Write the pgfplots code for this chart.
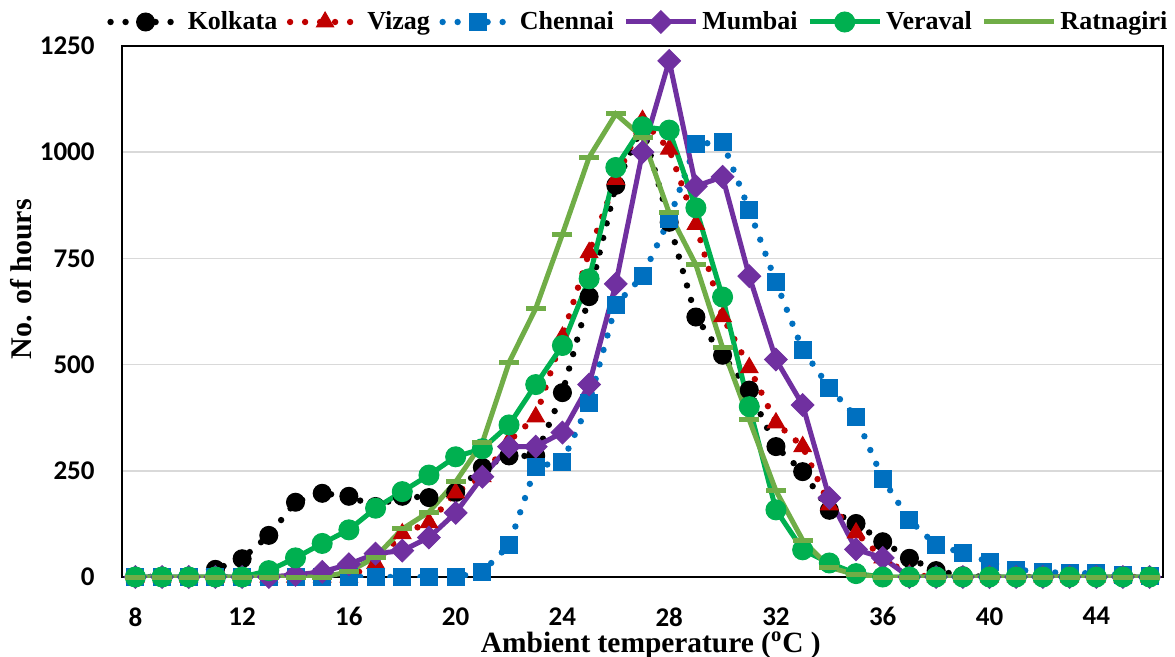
\documentclass[border=0pt]{standalone}
\usepackage{fontspec}
\setmainfont{Liberation Serif}
\newfontfamily\calibri{Carlito}
\usepackage{pgfplots}
\usepackage{pgfplotstable}
\pgfplotsset{compat=1.18}
\definecolor{cK}{HTML}{000000}
\definecolor{cV}{HTML}{C00000}
\definecolor{cC}{HTML}{0070C0}
\definecolor{cM}{HTML}{7030A0}
\definecolor{cW}{HTML}{00B050}
\definecolor{cR}{HTML}{70AD47}
\definecolor{gridc}{HTML}{D9D9D9}
\pgfplotstableread{
T K V C M W R
8 0 0 0 0 0 0
9 0 0 0 0 0 0
10 0 0 0 0 0 0
11 18 0 0 0 0 0
12 43 0 0 0 0 0
13 98 0 0 0 15 0
14 176 0 0 5 45 0
15 197 0 0 12 79 0
16 190 0 0 30 111 12
17 166 32 0 55 162 47
18 190 102 0 62 201 113
19 187 128 0 93 240 153
20 199 198 0 151 283 224
21 258 236 12 236 302 316
22 285 320 75 307 358 505
23 285 377 260 307 453 632
24 434 565 271 340 545 807
25 660 764 410 453 702 988
26 922 936 641 690 964 1090
27 1062 1075 708 1000 1060 1035
28 835 1007 842 1215 1052 857
29 612 830 1019 920 869 735
30 522 613 1024 942 659 540
31 440 493 864 708 401 370
32 307 363 694 512 158 203
33 248 307 535 405 64 87
34 157 170 446 186 33 23
35 126 104 377 65 8 5
36 83 45 231 45 0 0
37 44 5 134 0 0 0
38 15 0 75 0 0 0
39 3 0 57 0 0 0
40 0 0 35 0 0 0
41 0 0 17 0 0 0
42 0 0 12 0 0 0
43 0 0 9 0 0 0
44 0 0 9 0 0 0
45 0 0 5 0 0 0
46 0 0 3 0 0 0
}\datatable
\begin{document}
\begin{tikzpicture}
\begin{axis}[
  at={(0,0)}, anchor=south west,
  scale only axis, width=520.5bp, height=265.5bp,
  xmin=7.5, xmax=46.5, ymin=0, ymax=1250,
  xtick={8,12,...,44}, ytick={0,250,...,1250},
  ymajorgrids, grid style={draw=gridc, line width=0.8bp},
  major tick length=0pt,
  axis line style={line width=1bp},
  tick label style={font=\calibri\bfseries\fontsize{13.5bp}{15bp}\selectfont, inner sep=0pt},
  /pgf/number format/assume math mode=true,
  /pgf/number format/1000 sep={},
  xticklabel style={yshift=-15bp},
  yticklabel style={xshift=-13.5bp},
  xlabel={Ambient temperature (\textsuperscript{o}C )},
  ylabel={No. of hours},
  xlabel style={font=\bfseries\fontsize{14.7bp}{16bp}\selectfont, inner sep=0pt, at={(axis description cs:0.508,0)}, anchor=base, yshift=-37.5bp},
  ylabel style={font=\bfseries\fontsize{15bp}{16bp}\selectfont, inner sep=0pt, at={(axis description cs:-0.0865,0.561)}, anchor=base},
  legend columns=-1,
  legend style={draw=none, fill=none, at={(axis description cs:0.497,1.0452)}, anchor=center,
    font=\bfseries\fontsize{13bp}{15bp}\selectfont, inner sep=0pt,
    /tikz/every even column/.append style={column sep=2.8bp}},
  legend image code/.code={\draw[mark repeat=2,mark phase=2,#1] plot coordinates {(0bp,0bp) (17.5bp,0bp) (35bp,0bp)};},
]
\addplot[cK, line width=3.2bp, line cap=round, dash pattern=on 0pt off 7.5bp, mark=*, mark size=4.5bp, mark options={solid, fill=cK, line width=0.5bp}] table[x=T,y=K]{\datatable};
\addlegendentry{Kolkata}
\addplot[cV, line width=3.2bp, line cap=round, dash pattern=on 0pt off 7.5bp, mark=triangle*, mark size=5bp, mark options={solid, fill=cV, line width=0.5bp}] table[x=T,y=V]{\datatable};
\addlegendentry{Vizag}
\addplot[cC, line width=3.2bp, line cap=round, dash pattern=on 0pt off 7.5bp, mark=square*, mark size=4.25bp, mark options={solid, fill=cC, line width=0.5bp}] table[x=T,y=C]{\datatable};
\addlegendentry{Chennai}
\addplot[cM, line width=2.5bp, mark=square*, mark size=4bp, mark options={solid, fill=cM, rotate=45, line width=0.5bp}] table[x=T,y=M]{\datatable};
\addlegendentry{Mumbai}
\addplot[cW, line width=2.5bp, mark=*, mark size=5bp, mark options={solid, fill=cW, line width=0.5bp}] table[x=T,y=W]{\datatable};
\addlegendentry{Veraval}
\addplot[cR, line width=2.5bp, mark=-, mark size=5bp, mark options={solid, line width=2.5bp}] table[x=T,y=R]{\datatable};
\addlegendentry{Ratnagiri}
\end{axis}
\pgfresetboundingbox
\path[use as bounding box] (-61bp,-40bp) rectangle (526.5bp,288.5bp);
\end{tikzpicture}
\end{document}
